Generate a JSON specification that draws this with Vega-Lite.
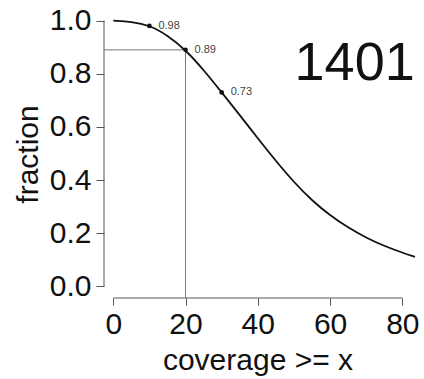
{
  "$schema": "https://vega.github.io/schema/vega-lite/v6.json",
  "width": 320,
  "height": 288,
  "autosize": {"type": "none"},
  "padding": {"left": 104, "top": 10, "right": 0, "bottom": 81},
  "background": "white",
  "config": {
    "view": {"stroke": null},
    "font": "Liberation Sans",
    "axis": {"grid": false, "domain": false, "tickColor": "#555", "labelColor": "#111", "titleColor": "#111", "labelFont": "Liberation Sans", "titleFont": "Liberation Sans", "titleFontWeight": "normal"}
  },
  "layer": [
    {
      "data": {"values": [
        {"x": -2.57, "x2": -2.57, "y": 0, "y2": 1},
        {"x": 0, "x2": 80, "y": -0.0436, "y2": -0.0436}
      ]},
      "mark": {"type": "rule", "color": "#555", "strokeWidth": 1},
      "encoding": {
        "x": {"field": "x", "type": "quantitative", "scale": {"domain": [-2.57, 86], "nice": false, "zero": false},
              "axis": {"values": [0, 20, 40, 60, 80], "tickSize": 7, "labelFontSize": 30, "labelPadding": 4, "title": "coverage >= x", "titleFontSize": 30, "titlePadding": 6, "titleX": 153.5}},
        "x2": {"field": "x2"},
        "y": {"field": "y", "type": "quantitative", "scale": {"domain": [-0.0436, 1.04], "nice": false, "zero": false},
              "axis": {"values": [0, 0.2, 0.4, 0.6, 0.8, 1.0], "format": ".1f", "tickSize": 8, "labelFontSize": 30, "labelPadding": 5, "title": "fraction", "titleFontSize": 30, "titlePadding": 6}},
        "y2": {"field": "y2"}
      }
    },
    {
      "data": {"values": [
        {"x": -2.57, "x2": 20, "y": 0.89, "y2": 0.89},
        {"x": 20, "x2": 20, "y": -0.0436, "y2": 0.89}
      ]},
      "mark": {"type": "rule", "color": "#777", "strokeWidth": 1},
      "encoding": {
        "x": {"field": "x", "type": "quantitative"},
        "x2": {"field": "x2"},
        "y": {"field": "y", "type": "quantitative"},
        "y2": {"field": "y2"}
      }
    },
    {
      "data": {"values": [
        {"x": 0, "y": 1.0},
        {"x": 5, "y": 0.996},
        {"x": 10, "y": 0.983},
        {"x": 15, "y": 0.945},
        {"x": 20, "y": 0.89},
        {"x": 25, "y": 0.815},
        {"x": 30, "y": 0.73},
        {"x": 35, "y": 0.645},
        {"x": 40, "y": 0.557},
        {"x": 45, "y": 0.472},
        {"x": 50, "y": 0.392},
        {"x": 55, "y": 0.323},
        {"x": 60, "y": 0.267},
        {"x": 65, "y": 0.221},
        {"x": 70, "y": 0.183},
        {"x": 75, "y": 0.152},
        {"x": 80, "y": 0.127},
        {"x": 83.5, "y": 0.111}
      ]},
      "mark": {"type": "line", "color": "#111", "strokeWidth": 1.8, "interpolate": "basis"},
      "encoding": {
        "x": {"field": "x", "type": "quantitative"},
        "y": {"field": "y", "type": "quantitative"}
      }
    },
    {
      "data": {"values": [
        {"x": 10, "y": 0.98, "label": "0.98"},
        {"x": 20, "y": 0.89, "label": "0.89"},
        {"x": 30, "y": 0.73, "label": "0.73"}
      ]},
      "layer": [
        {
          "mark": {"type": "point", "filled": true, "color": "#111", "size": 22, "opacity": 1},
          "encoding": {
            "x": {"field": "x", "type": "quantitative"},
            "y": {"field": "y", "type": "quantitative"}
          }
        },
        {
          "mark": {"type": "text", "align": "left", "baseline": "middle", "dx": 9, "fontSize": 11, "color": "#444"},
          "encoding": {
            "x": {"field": "x", "type": "quantitative"},
            "y": {"field": "y", "type": "quantitative"},
            "text": {"field": "label"}
          }
        }
      ]
    },
    {
      "data": {"values": [{"x": 66.8, "y": 0.835, "t": "1401"}]},
      "mark": {"type": "text", "align": "center", "baseline": "middle", "fontSize": 54, "color": "#111"},
      "encoding": {
        "x": {"field": "x", "type": "quantitative"},
        "y": {"field": "y", "type": "quantitative"},
        "text": {"field": "t"}
      }
    }
  ]
}
